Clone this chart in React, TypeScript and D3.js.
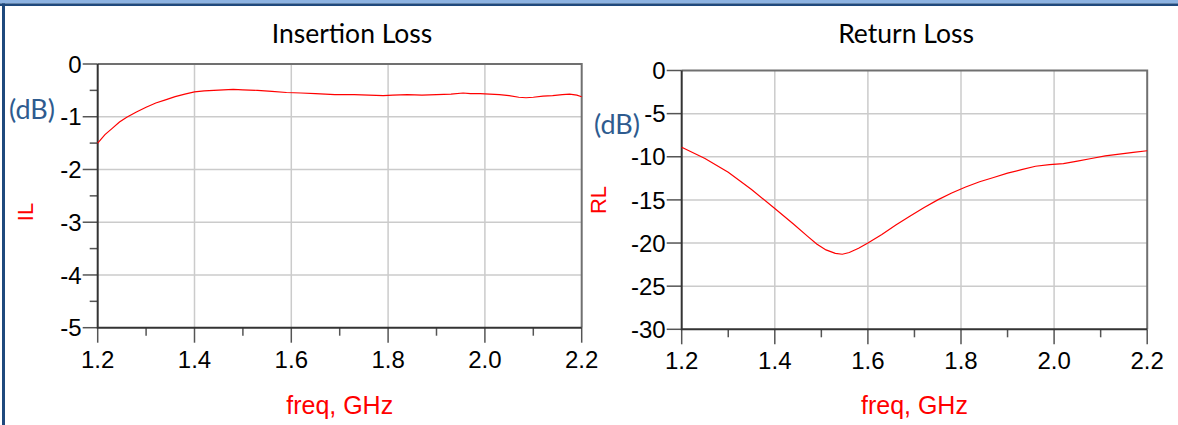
import React, { useEffect, useRef } from 'react'
import * as d3 from 'd3'

// insertion loss (freq in GHz, dB)
const ilFreq = [1.2, 1.215, 1.23, 1.245, 1.26, 1.28, 1.3, 1.32, 1.34, 1.36, 1.38, 1.4, 1.42, 1.44, 1.46, 1.48, 1.5, 1.53, 1.56, 1.59, 1.62, 1.65, 1.69, 1.73, 1.76, 1.79, 1.81, 1.84, 1.87, 1.9, 1.93, 1.955, 1.97, 1.99, 2.01, 2.03, 2.05, 2.07, 2.085, 2.1, 2.12, 2.14, 2.16, 2.175, 2.19, 2.2]
const ilValues = [-1.5, -1.34, -1.22, -1.1, -1.01, -0.91, -0.82, -0.74, -0.68, -0.62, -0.57, -0.53, -0.51, -0.5, -0.49, -0.48, -0.49, -0.5, -0.52, -0.54, -0.55, -0.56, -0.58, -0.58, -0.59, -0.6, -0.59, -0.58, -0.59, -0.58, -0.57, -0.55, -0.56, -0.56, -0.57, -0.58, -0.6, -0.63, -0.64, -0.63, -0.61, -0.6, -0.58, -0.57, -0.59, -0.62]

// return loss
const rlFreq = [1.2, 1.25, 1.3, 1.35, 1.4, 1.44, 1.47, 1.49, 1.51, 1.53, 1.545, 1.56, 1.58, 1.6, 1.63, 1.66, 1.69, 1.72, 1.75, 1.78, 1.81, 1.84, 1.87, 1.9, 1.93, 1.96, 1.99, 2.02, 2.05, 2.08, 2.11, 2.14, 2.17, 2.2]
const rlValues = [-8.9, -10.2, -11.8, -13.8, -16.0, -17.8, -19.2, -20.1, -20.8, -21.2, -21.3, -21.1, -20.6, -20.0, -19.0, -17.9, -16.9, -15.9, -15.0, -14.2, -13.5, -12.9, -12.4, -11.9, -11.5, -11.1, -10.9, -10.8, -10.5, -10.2, -9.9, -9.7, -9.5, -9.3]

const xTicks = [1.2, 1.4, 1.6, 1.8, 2.0, 2.2]
const xTickLabels = ['1.2', '1.4', '1.6', '1.8', '2.0', '2.2']
const xMinor = [1.3, 1.5, 1.7, 1.9, 2.1]
const ilTicks = [0, -1, -2, -3, -4, -5]
const ilMinor = [-0.5, -1.5, -2.5, -3.5, -4.5]
const rlTicks = [0, -5, -10, -15, -20, -25, -30]

export default function App() {
    const ref = useRef<HTMLDivElement>(null)

    let width = 1178, height = 425

    function drawPanel(svg: any, opt: any) {
        let x = d3.scaleLinear().domain([1.2, 2.2]).range([opt.left, opt.right])
        let y = d3.scaleLinear().domain([opt.yMin, 0]).range([opt.bottom, opt.top])
        let g = svg.append('g')

        // grid
        g.selectAll('.gx').data(xTicks.slice(1, -1)).enter().append('line')
            .attr('x1', (d: number) => x(d)).attr('x2', (d: number) => x(d))
            .attr('y1', opt.top).attr('y2', opt.bottom)
            .attr('stroke', '#cbcbcb').attr('stroke-width', 1.5)
        g.selectAll('.gy').data(opt.yTicks.slice(1, -1)).enter().append('line')
            .attr('x1', opt.left).attr('x2', opt.right)
            .attr('y1', (d: number) => y(d)).attr('y2', (d: number) => y(d))
            .attr('stroke', '#cbcbcb').attr('stroke-width', 1.5)

        // ticks
        g.selectAll('.tx').data(xTicks).enter().append('line')
            .attr('x1', (d: number) => x(d)).attr('x2', (d: number) => x(d))
            .attr('y1', opt.bottom).attr('y2', opt.bottom + 15)
            .attr('stroke', '#555').attr('stroke-width', 1.5)
        g.selectAll('.mx').data(xMinor).enter().append('line')
            .attr('x1', (d: number) => x(d)).attr('x2', (d: number) => x(d))
            .attr('y1', opt.bottom).attr('y2', opt.bottom + 8)
            .attr('stroke', '#555').attr('stroke-width', 1.5)
        g.selectAll('.ty').data(opt.yTicks).enter().append('line')
            .attr('x1', opt.left - 15).attr('x2', opt.left)
            .attr('y1', (d: number) => y(d)).attr('y2', (d: number) => y(d))
            .attr('stroke', '#555').attr('stroke-width', 1.5)
        g.selectAll('.my').data(opt.yMinor).enter().append('line')
            .attr('x1', opt.left - 8).attr('x2', opt.left)
            .attr('y1', (d: number) => y(d)).attr('y2', (d: number) => y(d))
            .attr('stroke', '#555').attr('stroke-width', 1.5)

        // frame: top/right lighter, left/bottom dark
        g.append('path')
            .attr('d', 'M' + opt.left + ',' + opt.top + 'H' + opt.right + 'V' + opt.bottom)
            .attr('fill', 'none').attr('stroke', '#707070').attr('stroke-width', 2)
        g.append('path')
            .attr('d', 'M' + opt.left + ',' + opt.top + 'V' + opt.bottom + 'H' + opt.right)
            .attr('fill', 'none').attr('stroke', '#333').attr('stroke-width', 2)

        // tick labels
        g.selectAll('.lx').data(xTicks).enter().append('text')
            .attr('x', (d: number) => x(d)).attr('y', opt.bottom + 40)
            .attr('text-anchor', 'middle')
            .text((d: number, i: number) => xTickLabels[i])
            .style('font-size', '24px').style('font-family', 'Liberation Sans, Arial')
        g.selectAll('.ly').data(opt.yTicks).enter().append('text')
            .attr('x', opt.left - 16).attr('y', (d: number) => y(d))
            .attr('dy', '0.36em')
            .attr('text-anchor', 'end')
            .text((d: number) => d3.format('d')(d).replace('−', '-'))
            .style('font-size', '24px').style('font-family', 'Liberation Sans, Arial')

        // trace
        let line = d3.line<number>()
            .x((d: number) => x(d))
            .y((d: number, i: number) => y(opt.values[i]))
        g.append('path')
            .datum(opt.freq)
            .attr('d', line)
            .attr('fill', 'none').attr('stroke', '#ff0000').attr('stroke-width', 1.2)

        // titles and labels
        g.append('text')
            .attr('x', opt.titleX).attr('y', 43)
            .attr('text-anchor', 'middle')
            .text(opt.title)
            .style('font-size', '26.5px').style('font-family', 'Lato')
        g.append('text')
            .attr('x', opt.dbX).attr('y', opt.dbY)
            .text('(dB)')
            .style('font-size', '27px').style('font-family', 'Lato').style('fill', '#2e5b8f')
        g.append('text')
            .attr('transform', 'translate(' + opt.nameX + ',' + opt.nameY + ') rotate(-90)')
            .attr('text-anchor', 'middle')
            .text(opt.name)
            .style('font-size', '22px').style('font-family', 'Liberation Sans, Arial').style('fill', '#ff0000')
        g.append('text')
            .attr('x', (opt.left + opt.right) / 2).attr('y', 414)
            .attr('text-anchor', 'middle')
            .text('freq, GHz')
            .style('font-size', '25px').style('font-family', 'Liberation Sans, Arial').style('fill', '#ff0000')
    }

    function graph() {
        d3.select(ref.current).selectAll('*').remove()
        var svg = d3.select(ref.current)
            .append('svg')
            .attr('width', width)
            .attr('height', height)
            .style('display', 'block')

        svg.append('rect').attr('width', width).attr('height', height).attr('fill', '#fff')
        // slide frame
        svg.append('rect').attr('x', 0).attr('y', 0).attr('width', width).attr('height', 3.4).attr('fill', '#8db3e2')
        svg.append('rect').attr('x', 0).attr('y', 3.4).attr('width', width).attr('height', 2.6).attr('fill', '#1f497d')
        svg.append('rect').attr('x', 2).attr('y', 3.4).attr('width', 3).attr('height', height).attr('fill', '#1f497d')

        drawPanel(svg, {
            left: 97.7, right: 581.7, top: 64, bottom: 327.7, yMin: -5,
            yTicks: ilTicks, yMinor: ilMinor, freq: ilFreq, values: ilValues,
            title: 'Insertion Loss', titleX: 352, dbX: 9, dbY: 119,
            name: 'IL', nameX: 33, nameY: 212
        })
        drawPanel(svg, {
            left: 681.7, right: 1147.2, top: 70.5, bottom: 329.3, yMin: -30,
            yTicks: rlTicks, yMinor: [], freq: rlFreq, values: rlValues,
            title: 'Return Loss', titleX: 906, dbX: 594, dbY: 134,
            name: 'RL', nameX: 606, nameY: 200
        })
    }

    useEffect(() => {
        document.body.style.margin = '0'
        graph()
    }, [])

    return (
        <div ref={ref} style={{ position: 'absolute', left: 0, top: 0 }}></div>
    )
}
